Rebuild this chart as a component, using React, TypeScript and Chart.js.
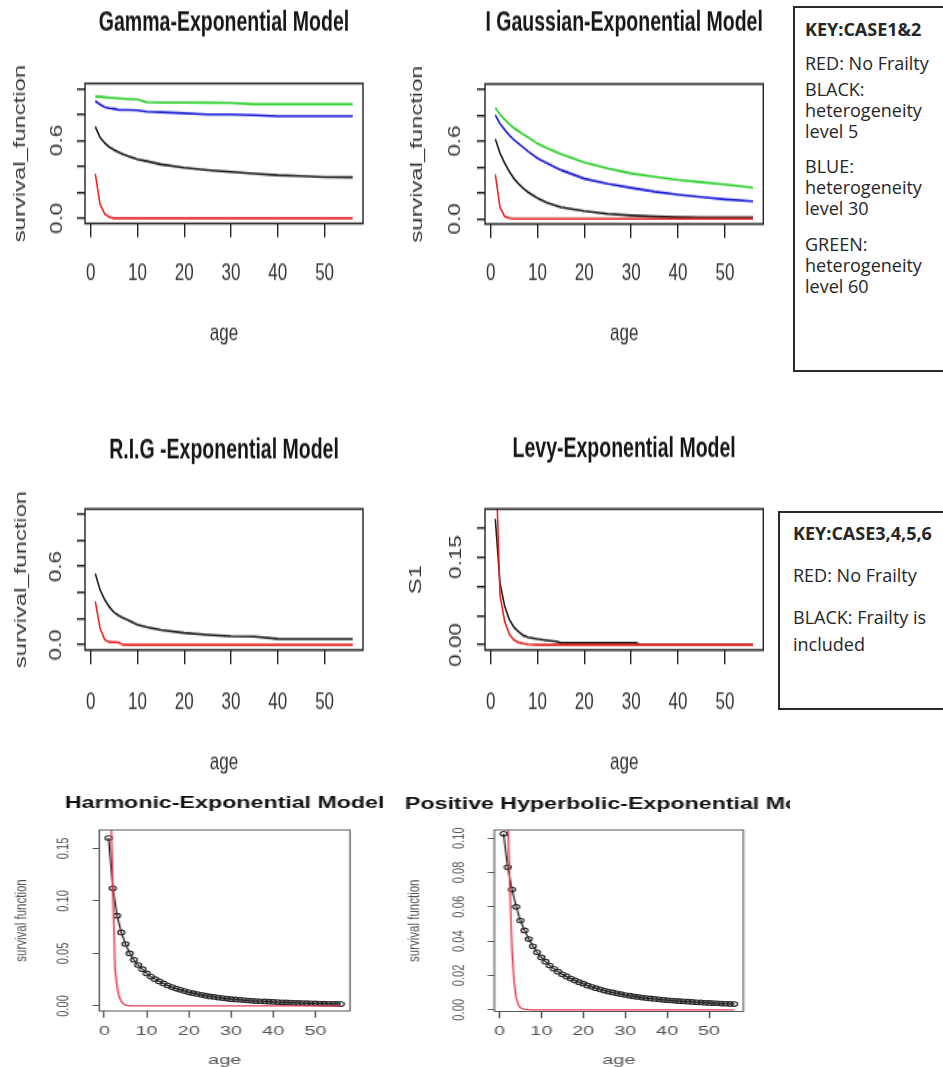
import React, { useEffect, useRef } from 'react';
import { Chart, registerables } from 'chart.js';

Chart.register(...registerables);

// ---------------- data ----------------
const AGES_TOP = [1, 2, 3, 4, 5, 6, 7, 8, 10, 12, 15, 20, 25, 30, 35, 40, 45, 50, 56];

const GAMMA_RED = [0.343, 0.11, 0.035, 0.01, 0, 0, 0, 0, 0, 0, 0, 0, 0, 0, 0, 0, 0, 0, 0];
const GAMMA_BLACK = [0.706, 0.625, 0.58, 0.55, 0.527, 0.51, 0.494, 0.48, 0.455, 0.44, 0.416, 0.39, 0.372, 0.358, 0.345, 0.332, 0.325, 0.318, 0.316];
const GAMMA_BLUE = [0.904, 0.88, 0.857, 0.85, 0.845, 0.836, 0.836, 0.836, 0.833, 0.822, 0.818, 0.81, 0.8, 0.8, 0.795, 0.787, 0.787, 0.787, 0.787];
const GAMMA_GREEN = [0.94, 0.937, 0.934, 0.93, 0.927, 0.925, 0.922, 0.92, 0.917, 0.896, 0.893, 0.892, 0.891, 0.89, 0.88, 0.88, 0.88, 0.88, 0.88];

const IG_RED = [0.343, 0.09, 0.018, 0.005, 0, 0, 0, 0, 0, 0, 0, 0, 0, 0, 0, 0, 0, 0, 0];
const IG_BLACK = [0.616, 0.506, 0.43, 0.365, 0.31, 0.27, 0.234, 0.205, 0.16, 0.125, 0.09, 0.06, 0.039, 0.026, 0.018, 0.013, 0.011, 0.01, 0.01];
const IG_BLUE = [0.8, 0.735, 0.688, 0.645, 0.61, 0.58, 0.55, 0.52, 0.468, 0.43, 0.377, 0.31, 0.27, 0.239, 0.21, 0.187, 0.168, 0.15, 0.135];
const IG_GREEN = [0.857, 0.805, 0.766, 0.73, 0.7, 0.675, 0.65, 0.63, 0.58, 0.545, 0.5, 0.436, 0.39, 0.35, 0.325, 0.3, 0.283, 0.265, 0.24];

const RIG_RED = [0.333, 0.13, 0.04, 0.02, 0.02, 0.018, 0, 0, 0, 0, 0, 0, 0, 0, 0, 0, 0, 0, 0];
const RIG_BLACK = [0.546, 0.423, 0.346, 0.29, 0.249, 0.225, 0.205, 0.19, 0.154, 0.135, 0.115, 0.092, 0.077, 0.066, 0.064, 0.046, 0.044, 0.044, 0.044];

const LEVY_AGES = [1, 2, 3, 4, 5, 6, 7, 8, 10, 12, 14, 15, 20, 25, 31, 32, 40, 50, 56];
const LEVY_RED = [0.343, 0.085, 0.04, 0.018, 0.008, 0.004, 0.002, 0.001, 0, 0, 0, 0, 0, 0, 0, 0, 0, 0, 0];
const LEVY_BLACK = [0.215, 0.105, 0.066, 0.043, 0.03, 0.022, 0.016, 0.013, 0.0097, 0.0075, 0.0057, 0.003, 0.003, 0.003, 0.003, 0.0004, 0.0004, 0.0004, 0.0004];

const AGES_ALL = [
  1, 2, 3, 4, 5, 6, 7, 8, 9, 10, 11, 12, 13, 14, 15, 16, 17, 18, 19, 20,
  21, 22, 23, 24, 25, 26, 27, 28, 29, 30, 31, 32, 33, 34, 35, 36, 37, 38, 39, 40,
  41, 42, 43, 44, 45, 46, 47, 48, 49, 50, 51, 52, 53, 54, 55, 56,
];
const HARM_BLACK = [
  0.16, 0.112, 0.086, 0.07, 0.059, 0.05, 0.044, 0.039, 0.035, 0.031,
  0.028, 0.0255, 0.0234, 0.0215, 0.0195, 0.018, 0.0166, 0.0154, 0.0142, 0.013,
  0.0122, 0.0114, 0.0106, 0.0098, 0.0091, 0.0086, 0.008, 0.0075, 0.007, 0.0065,
  0.0062, 0.0059, 0.0056, 0.0052, 0.0049, 0.0047, 0.0045, 0.0043, 0.0041, 0.0039,
  0.0037, 0.0035, 0.0034, 0.0032, 0.003, 0.0029, 0.0028, 0.0027, 0.0025, 0.0024,
  0.0023, 0.0022, 0.0021, 0.002, 0.0019, 0.0018,
];
const HYP_BLACK = [
  0.1025, 0.083, 0.07, 0.06, 0.052, 0.0462, 0.0412, 0.037, 0.0335, 0.0305,
  0.028, 0.0258, 0.0239, 0.0222, 0.0207, 0.0194, 0.0182, 0.0171, 0.0161, 0.0152,
  0.0142, 0.0134, 0.0126, 0.0119, 0.0112, 0.0106, 0.0101, 0.0096, 0.0091, 0.0086,
  0.0082, 0.0078, 0.0075, 0.0071, 0.0068, 0.0066, 0.0063, 0.0061, 0.0058, 0.0056,
  0.0054, 0.0052, 0.005, 0.0049, 0.0047, 0.0046, 0.0044, 0.0043, 0.0041, 0.004,
  0.0039, 0.0038, 0.0036, 0.0035, 0.0034, 0.0033,
];
const RED_FINE_AGES = [1, 1.5, 2, 2.5, 3, 3.5, 4, 4.5, 5, 6, 8, 12, 20, 30, 40, 50, 56];
const HARM_RED = [0.32, 0.19, 0.11, 0.036, 0.018, 0.009, 0.0045, 0.002, 0.0008, 0.0001, 0, 0, 0, 0, 0, 0, 0];
const HYP_RED = [0.3, 0.2, 0.11, 0.072, 0.035, 0.016, 0.007, 0.003, 0.0012, 0.0002, 0, 0, 0, 0, 0, 0, 0];

const X_TICKS = [0, 10, 20, 30, 40, 50];
const UNIT_Y_TICKS = [0, 0.2, 0.4, 0.6, 0.8, 1.0];
const UNIT_Y_LABELS = ['0.0', '', '', '0.6', '', ''];
const LEVY_Y_TICKS = [0, 0.05, 0.1, 0.15, 0.2];
const LEVY_Y_LABELS = ['0.00', '', '', '0.15', ''];
const HARM_Y_TICKS = [0, 0.05, 0.1, 0.15];
const HARM_Y_LABELS = ['0.00', '0.05', '0.10', '0.15'];
const HYP_Y_TICKS = [0, 0.02, 0.04, 0.06, 0.08, 0.1];
const HYP_Y_LABELS = ['0.00', '0.02', '0.04', '0.06', '0.08', '0.10'];

const KEY1_LINES = [
  { t: 'KEY:CASE1&2', y: 29, b: true },
  { t: 'RED: No Frailty', y: 63 },
  { t: 'BLACK:', y: 89 },
  { t: 'heterogeneity', y: 110 },
  { t: 'level 5', y: 131 },
  { t: 'BLUE:', y: 166 },
  { t: 'heterogeneity', y: 187 },
  { t: 'level 30', y: 208 },
  { t: 'GREEN:', y: 244 },
  { t: 'heterogeneity', y: 265 },
  { t: 'level 60', y: 286 },
];
const KEY2_LINES = [
  { t: 'KEY:CASE3,4,5,6', y: 533, b: true },
  { t: 'RED: No Frailty', y: 575 },
  { t: 'BLACK: Frailty is', y: 617 },
  { t: 'included', y: 644 },
];

// ---------------- styling ----------------
const FF = "'Liberation Sans', Arial, Helvetica, sans-serif";
const RED = 'rgb(236,36,36)';
const GREEN = 'rgb(40,206,40)';
const BLUE = 'rgb(28,28,214)';
const BLACK = 'rgb(28,28,28)';
const PINK_RED = 'rgb(230,58,80)';

const pts = (xs: number[], ys: number[]) => xs.map((x, i) => ({ x, y: ys[i] }));
const line = (xs: number[], ys: number[], color: string, width: number) => ({
  data: pts(xs, ys),
  borderColor: color,
  backgroundColor: color,
  borderWidth: width,
  pointRadius: 0,
  fill: false,
  tension: 0,
});
const circles = (xs: number[], ys: number[]) => ({
  data: pts(xs, ys),
  borderColor: '#1a1a1a',
  borderWidth: 1.1,
  pointRadius: 2.3,
  pointBorderWidth: 1.1,
  pointBorderColor: '#2a2a2a',
  pointBackgroundColor: 'rgba(0,0,0,0)',
  pointStyle: 'circle',
  fill: false,
  tension: 0,
});

interface Spec {
  key: string;
  left: number; top: number; w: number; h: number; cssW: number; cssH: number;
  box: number[];
  xRange: number[]; yRange: number[];
  yTicks: number[]; yLabels: string[];
  title: string; titleY: number; titleSize: number;
  yTitle: string; yTitleX: number; yTitleSize: number;
  yTickLabelX: number; yTickSize: number;
  xTickLabelY: number; xTickSize: number;
  xTitleY: number; xTitleSize: number; xTitleLH: number;
  xTickLen: number; yTickLen: number;
  frameColor: string; frameWidth: number; textColor: string; titleColor: string;
  datasets: any[];
}

const topCommon = {
  titleSize: 19.5, yTitleSize: 17, yTickSize: 16, xTickSize: 17, xTitleSize: 17, xTitleLH: 1.2,
  xTickLen: 10, yTickLen: 8, frameColor: '#222', frameWidth: 1.4, textColor: '#333', titleColor: '#161616',
  xRange: [-1.2, 58.2],
};
const botCommon = {
  titleSize: 16, yTitleSize: 11.5, yTickSize: 11.2, xTickSize: 13.7, xTitleSize: 13.7, xTitleLH: 1,
  xTickLen: 6.7, yTickLen: 4.6, frameColor: '#555', frameWidth: 1, textColor: '#555', titleColor: '#111',
  xRange: [-1.2, 58.2], h: 289, cssH: 289, top: 778,
  xTickLabelY: 253.7, xTitleY: 282, yTitle: 'survival function',
};

const SPECS: Spec[] = [
  {
    ...topCommon, key: 'gamma',
    left: 0, top: 0, w: 380, h: 250, cssW: 380, cssH: 350,
    box: [85, 59.6, 363, 159.6], yRange: [-0.04, 1.04],
    yTicks: UNIT_Y_TICKS, yLabels: UNIT_Y_LABELS,
    title: 'Gamma-Exponential Model', titleY: 17.1,
    yTitle: 'survival_function', yTitleX: 20.5, yTickLabelX: 57.5,
    xTickLabelY: 195.7, xTitleY: 237.9,
    datasets: [
      line(AGES_TOP, GAMMA_RED, RED, 1.6),
      line(AGES_TOP, GAMMA_BLACK, BLACK, 1.6),
      line(AGES_TOP, GAMMA_BLUE, BLUE, 1.6),
      line(AGES_TOP, GAMMA_GREEN, GREEN, 1.6),
    ],
  },
  {
    ...topCommon, key: 'ig',
    left: 380, top: 0, w: 410, h: 250, cssW: 410, cssH: 350,
    box: [105, 60, 383.3, 160], yRange: [-0.04, 1.04],
    yTicks: UNIT_Y_TICKS, yLabels: UNIT_Y_LABELS,
    title: 'I Gaussian-Exponential Model', titleY: 16.6,
    yTitle: 'survival_function', yTitleX: 37.5, yTickLabelX: 76,
    xTickLabelY: 195.7, xTitleY: 237.9,
    datasets: [
      line(AGES_TOP, IG_RED, RED, 1.6),
      line(AGES_TOP, IG_BLACK, BLACK, 1.6),
      line(AGES_TOP, IG_BLUE, BLUE, 1.6),
      line(AGES_TOP, IG_GREEN, GREEN, 1.6),
    ],
  },
  {
    ...topCommon, key: 'rig',
    left: 0, top: 415, w: 380, h: 260, cssW: 380, cssH: 364,
    box: [85, 67.1, 363, 167.9], yRange: [-0.04, 1.04],
    yTicks: UNIT_Y_TICKS, yLabels: UNIT_Y_LABELS,
    title: 'R.I.G -Exponential Model', titleY: 25.7,
    yTitle: 'survival_function', yTitleX: 21, yTickLabelX: 56.5,
    xTickLabelY: 205.4, xTitleY: 248.6,
    datasets: [
      line(AGES_TOP, RIG_RED, RED, 1.6),
      line(AGES_TOP, RIG_BLACK, BLACK, 1.6),
    ],
  },
  {
    ...topCommon, key: 'levy',
    left: 380, top: 415, w: 395, h: 260, cssW: 395, cssH: 364,
    box: [105, 67.1, 383.3, 167.9], yRange: [-0.009, 0.232],
    yTicks: LEVY_Y_TICKS, yLabels: LEVY_Y_LABELS,
    title: 'Levy-Exponential Model', titleY: 25,
    yTitle: 'S1', yTitleX: 36.7, yTickLabelX: 76.7,
    xTickLabelY: 205.4, xTitleY: 248.6,
    datasets: [
      line(LEVY_AGES, LEVY_RED, RED, 1.6),
      line(LEVY_AGES, LEVY_BLACK, BLACK, 1.6),
    ],
  },
  {
    ...botCommon, key: 'harm',
    left: 0, w: 269, cssW: 390,
    box: [68.5, 52, 241.4, 233], yRange: [-0.0048, 0.1676],
    yTicks: HARM_Y_TICKS, yLabels: HARM_Y_LABELS,
    title: 'Harmonic-Exponential Model', titleY: 26,
    yTitleX: 15, yTickLabelX: 44.1,
    datasets: [
      line(RED_FINE_AGES, HARM_RED, PINK_RED, 1.2),
      circles(AGES_ALL, HARM_BLACK),
    ],
  },
  {
    ...botCommon, key: 'hyp',
    left: 390, w: 276, cssW: 400,
    box: [72, 52, 243.8, 233.5], yRange: [-0.001, 0.1047],
    yTicks: HYP_Y_TICKS, yLabels: HYP_Y_LABELS,
    title: 'Positive Hyperbolic-Exponential Model', titleY: 27,
    yTitleX: 17.3, yTickLabelX: 47.6,
    datasets: [
      line(RED_FINE_AGES, HYP_RED, PINK_RED, 1.2),
      circles(AGES_ALL, HYP_BLACK),
    ],
  },
];

function buildConfig(s: Spec): any {
  const padLeft = s.yTitleX - (s.yTitleSize * 1.2) / 2;
  const yScaleW = s.box[0] - padLeft;
  const xScaleH = s.xTitleY + (s.xTitleSize * s.xTitleLH) / 2 - s.box[3];
  const padBottom = s.h - s.box[3] - xScaleH;
  const tickPad = s.xTickLabelY - s.box[3] - s.xTickLen - (s.xTickSize * 1.2) / 2;

  const framePlugin = {
    id: 'rframe-' + s.key,
    afterDraw(chart: any) {
      const ctx = chart.ctx;
      const a = chart.chartArea;
      ctx.save();
      ctx.strokeStyle = s.frameColor;
      ctx.lineWidth = s.frameWidth;
      ctx.strokeRect(a.left, a.top, a.right - a.left, a.bottom - a.top);
      ctx.fillStyle = s.titleColor;
      ctx.textAlign = 'center';
      ctx.textBaseline = 'middle';
      ctx.font = `bold ${s.titleSize}px ${FF}`;
      ctx.fillText(s.title, (a.left + a.right) / 2, s.titleY);
      ctx.fillStyle = s.textColor;
      ctx.font = `${s.yTickSize}px ${FF}`;
      const ys = chart.scales.y;
      s.yTicks.forEach((v, i) => {
        const lab = s.yLabels[i];
        if (!lab) return;
        ctx.save();
        ctx.translate(s.yTickLabelX, ys.getPixelForValue(v));
        ctx.rotate(-Math.PI / 2);
        ctx.fillText(lab, 0, 0);
        ctx.restore();
      });
      ctx.restore();
    },
  };

  return {
    type: 'line',
    data: { datasets: s.datasets },
    options: {
      responsive: false,
      animation: false,
      devicePixelRatio: 1,
      events: [],
      layout: { padding: { left: padLeft, top: s.box[1], right: s.w - s.box[2], bottom: padBottom } },
      plugins: { legend: { display: false }, title: { display: false }, tooltip: { enabled: false } },
      scales: {
        x: {
          type: 'linear',
          min: s.xRange[0],
          max: s.xRange[1],
          afterBuildTicks: (sc: any) => { sc.ticks = X_TICKS.map((v) => ({ value: v })); },
          afterFit: (sc: any) => { sc.height = xScaleH; },
          ticks: {
            font: { family: FF, size: s.xTickSize },
            color: s.textColor,
            padding: tickPad,
            maxRotation: 0,
            minRotation: 0,
            autoSkip: false,
            callback: (v: any) => String(v),
          },
          grid: {
            display: true, drawOnChartArea: false, drawTicks: true, tickLength: s.xTickLen,
            color: s.frameColor, lineWidth: s.frameWidth,
          },
          border: { display: false },
          title: {
            display: true, text: 'age', color: s.textColor, padding: 0,
            font: { family: FF, size: s.xTitleSize, lineHeight: s.xTitleLH },
          },
        },
        y: {
          type: 'linear',
          min: s.yRange[0],
          max: s.yRange[1],
          afterBuildTicks: (sc: any) => { sc.ticks = s.yTicks.map((v) => ({ value: v })); },
          afterFit: (sc: any) => { sc.width = yScaleW; },
          ticks: { display: false },
          grid: {
            display: true, drawOnChartArea: false, drawTicks: true, tickLength: s.yTickLen,
            color: s.frameColor, lineWidth: s.frameWidth,
          },
          border: { display: false },
          title: {
            display: true, text: s.yTitle, color: s.textColor, padding: 0,
            font: { family: FF, size: s.yTitleSize },
          },
        },
      },
    },
    plugins: [framePlugin],
  };
}

function Panel({ spec }: { spec: Spec }) {
  const ref = useRef<HTMLCanvasElement | null>(null);
  useEffect(() => {
    if (!ref.current) return;
    const chart = new Chart(ref.current, buildConfig(spec));
    return () => chart.destroy();
  }, [spec]);
  return (
    <canvas
      ref={ref}
      width={spec.w}
      height={spec.h}
      style={{
        position: 'absolute',
        left: spec.left,
        top: spec.top,
        width: spec.cssW + 'px',
        height: spec.cssH + 'px',
      }}
    />
  );
}

function KeyBox({ left, top, height, textLeft, lines }: { left: number; top: number; height: number; textLeft: number; lines: { t: string; y: number; b?: boolean }[] }) {
  return (
    <>
      <div
        style={{
          position: 'absolute', left, top, width: 200, height,
          border: '2px solid #2a2a2a', boxSizing: 'border-box', background: '#fff',
        }}
      />
      {lines.map((l, i) => (
        <div
          key={i}
          style={{
            position: 'absolute', left: textLeft, top: l.y - 12, height: 24, lineHeight: '24px',
            fontFamily: "'Open Sans', 'Noto Sans', sans-serif", fontSize: 18,
            fontWeight: l.b ? 700 : 400, color: '#262626', whiteSpace: 'nowrap',
          }}
        >
          {l.t}
        </div>
      ))}
    </>
  );
}

export default function App() {
  return (
    <div
      style={{
        position: 'absolute', left: 0, top: 0, width: 943, height: 1067,
        overflow: 'hidden', background: '#fff',
      }}
    >
      {SPECS.map((s) => (
        <Panel key={s.key} spec={s} />
      ))}
      <KeyBox left={793} top={6} height={366} textLeft={805} lines={KEY1_LINES} />
      <KeyBox left={778} top={511} height={199} textLeft={793} lines={KEY2_LINES} />
    </div>
  );
}
